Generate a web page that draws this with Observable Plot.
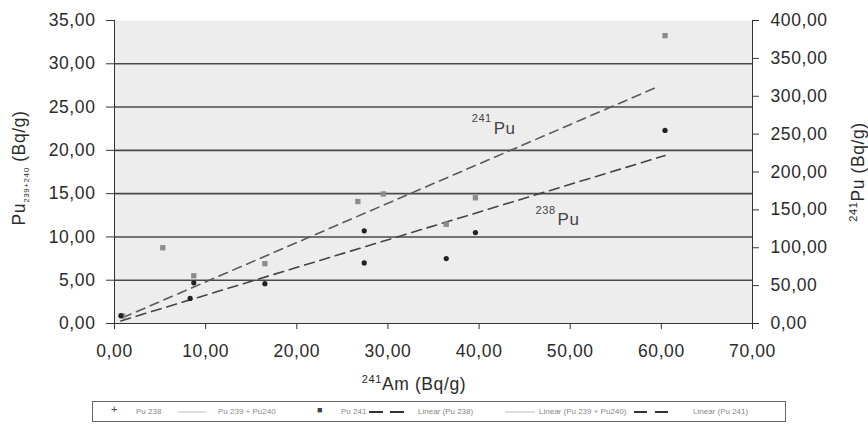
<!DOCTYPE html>
<html><head><meta charset="utf-8">
<script src="https://cdn.jsdelivr.net/npm/d3@7"></script>
<script src="https://cdn.jsdelivr.net/npm/@observablehq/plot@0.6"></script>
<style>
body{margin:0;background:#fff;font-family:"Liberation Sans",Arial,sans-serif;}
#wrap{position:relative;width:868px;height:430px;}
#legend{position:absolute;left:92px;top:401px;width:692px;height:19px;border:1px solid #666;font-size:8px;color:#888;}
#legend > span{position:absolute;top:5px;white-space:nowrap;}
#legend i{display:inline-block;vertical-align:middle;}
</style></head>
<body><div id="wrap"></div>
<script>
// Data
const xTicks = [0, 10, 20, 30, 40, 50, 60, 70];
const leftTicks = [0, 5, 10, 15, 20, 25, 30, 35];
const rightTicks = [0, 50, 100, 150, 200, 250, 300, 350, 400];

const am241_238 = [0.7, 8.3, 8.7, 16.5, 27.4, 27.4, 36.4, 39.6, 60.4];
const pu238 =     [0.9, 2.9, 4.7, 4.6, 10.7, 7.0, 7.5, 10.5, 22.3];

const am241_241 = [0.9, 5.3, 8.7, 16.5, 26.7, 29.5, 36.4, 39.6, 60.4];
const pu241 =     [10, 100, 63, 79, 161, 171, 131, 166, 380];

const trend238X = [0.7, 60.4];
const trend238Y = [0.3, 19.4];
const trend241X = [0.9, 59.7];
const trend241Y = [7.7, 313];

const legendItems = ["Pu 238", "Pu 239 + Pu240", "Pu 241", "Linear (Pu 238)", "Linear (Pu 239 + Pu240)", "Linear (Pu 241)"];

const k = 35 / 400; // right axis -> left axis
const fmt = d => d.toFixed(2).replace(".", ",");

const d238 = am241_238.map((x, i) => ({x, y: pu238[i]}));
const d241 = am241_241.map((x, i) => ({x, y: pu241[i] * k}));
const t238 = trend238X.map((x, i) => ({x, y: trend238Y[i]}));
const t241 = trend241X.map((x, i) => ({x, y: trend241Y[i] * k}));

const chart = Plot.plot({
  width: 868, height: 395,
  marginLeft: 114, marginRight: 116, marginTop: 20, marginBottom: 72,
  x: {type: "linear", domain: [0, 70]},
  y: {type: "linear", domain: [0, 35]},
  style: {fontFamily: "Liberation Sans, Arial, sans-serif", fontSize: "17.5px", letterSpacing: "0.6px", color: "#2a2a2a", background: "transparent"},
  marks: [
    Plot.frame({fill: "#ededed", stroke: null}),
    Plot.ruleY(leftTicks.filter(d => d > 0 && d < 35), {stroke: "#4a4a4a", strokeWidth: 1.6}),
    Plot.axisY(leftTicks, {anchor: "left", tickFormat: fmt, tickSize: 8, tickPadding: 11, label: null, stroke: "#333"}),
    Plot.axisY(rightTicks.map(v => v * k), {anchor: "right", tickFormat: d => fmt(d / k), tickSize: 6, tickPadding: 12, label: null, stroke: "#333"}),
    Plot.axisX(xTicks, {tickFormat: fmt, tickSize: 6, tickPadding: 15, label: null, stroke: "#333"}),
    Plot.ruleX([0], {stroke: "#333"}),
    Plot.ruleX([70], {stroke: "#333"}),
    Plot.ruleY([0], {stroke: "#333"}),
    Plot.line(t241, {x: "x", y: "y", stroke: "#5a5a5a", strokeWidth: 1.6, strokeDasharray: "9,6"}),
    Plot.line(t238, {x: "x", y: "y", stroke: "#444", strokeWidth: 1.6, strokeDasharray: "10,6"}),
    Plot.dot(d241, {x: "x", y: "y", symbol: "square", r: 3, fill: "#8c8c8c"}),
    Plot.dot(d238, {x: "x", y: "y", r: 2.6, fill: "#222"}),
    Plot.text(["Pu"], {x: 41.6, y: 22.5, text: d => d, textAnchor: "start", fontSize: 17, fill: "#444"}),
    Plot.text(["241"], {x: 41.4, y: 23.7, text: d => d, textAnchor: "end", fontSize: 11, fill: "#444"}),
    Plot.text(["Pu"], {x: 48.6, y: 12.0, text: d => d, textAnchor: "start", fontSize: 17, fill: "#444"}),
    Plot.text(["238"], {x: 48.4, y: 13.1, text: d => d, textAnchor: "end", fontSize: 11, fill: "#444"})
  ]
});

const wrap = document.getElementById("wrap");
wrap.appendChild(chart);

const svg = d3.select(chart);
function addLabel(x, y, rot, sup, main, sub) {
  const t = svg.append("text")
    .attr("transform", `translate(${x},${y}) rotate(${rot})`)
    .attr("text-anchor", "middle")
    .attr("font-size", 17.5).attr("fill", "#2a2a2a")
    .attr("font-family", "Liberation Sans, Arial, sans-serif");
  if (sup) t.append("tspan").attr("font-size", 11).attr("dy", -7).text(sup);
  if (sup) t.append("tspan").attr("dy", 7).text(main); else t.append("tspan").text(main);
  if (sub) { t.append("tspan").attr("font-size", 8).attr("dy", 4).text(sub); t.append("tspan").attr("dy", -4).text(" (Bq/g)"); }
  else t.append("tspan").text(" (Bq/g)");
}
addLabel(25, 168, -90, null, "Pu", "239+240");
addLabel(864, 172, -90, "241", "Pu", null);
addLabel(414, 390, 0, "241", "Am", null);

// legend
const leg = document.createElement("div");
leg.id = "legend";
wrap.appendChild(leg);
const dash = (w, g) => `<i style='width:${w}px;border-top:2px solid #333;margin-right:${g}px'></i><i style='width:${w}px;border-top:2px solid #333'></i>`;
const symbols = [
  {left: 18, html: "+", fs: 11, top: 1},
  {left: 85, html: "<i style='width:28px;border-top:2px solid #ddd'></i>", fs: 8, top: 5},
  {left: 224, html: "&#9632;", fs: 9, top: 3},
  {left: 276, html: dash(14, 7), fs: 8, top: 5},
  {left: 412, html: "<i style='width:30px;border-top:2px solid #ddd'></i>", fs: 8, top: 5},
  {left: 541, html: dash(13, 8), fs: 8, top: 5}
];
const textLeft = [43, 125, 248, 325, 446, 600];
symbols.forEach(s => {
  const e = document.createElement("span");
  e.innerHTML = s.html; e.style.left = s.left + "px"; e.style.fontSize = s.fs + "px"; e.style.top = s.top + "px"; e.style.color = "#444";
  leg.appendChild(e);
});
legendItems.forEach((t, i) => {
  const e = document.createElement("span");
  e.textContent = t; e.style.left = textLeft[i] + "px";
  leg.appendChild(e);
});
</script></body></html>
